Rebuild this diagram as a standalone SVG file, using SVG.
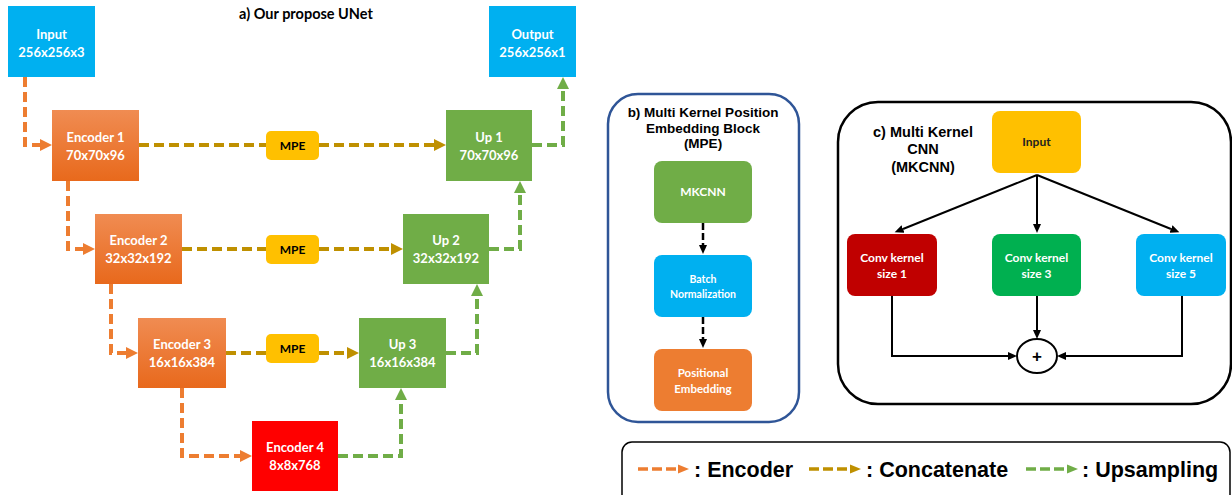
<svg xmlns="http://www.w3.org/2000/svg" width="1232" height="495" viewBox="0 0 1232 495">
<style>
.t{font-family:Lato,"Open Sans","Liberation Sans",sans-serif;font-weight:bold;text-anchor:middle}
.w{fill:#fff}
.a{font-family:"Liberation Sans",Arial,sans-serif;font-weight:bold;fill:#000}
.enc{fill:none;stroke:#ED7D31;stroke-width:4;stroke-dasharray:10 5}
.cat{fill:none;stroke:#BF9000;stroke-width:4;stroke-dasharray:10 5}
.ups{fill:none;stroke:#70AD47;stroke-width:4;stroke-dasharray:10 5}
.blk{fill:none;stroke:#000;stroke-width:2}
.bd{fill:none;stroke:#000;stroke-width:2.5;stroke-dasharray:7 3}
</style>
<defs>
<linearGradient id="og" x1="0" y1="0" x2="0" y2="1">
<stop offset="0" stop-color="#F08C52"/>
<stop offset="1" stop-color="#E8691C"/>
</linearGradient>
<marker id="mo" markerUnits="userSpaceOnUse" markerWidth="13" markerHeight="14" refX="0" refY="7" orient="auto"><path d="M0,1 L12,7 L0,13 z" fill="#ED7D31"/></marker>
<marker id="mc" markerUnits="userSpaceOnUse" markerWidth="13" markerHeight="14" refX="0" refY="7" orient="auto"><path d="M0,1 L12,7 L0,13 z" fill="#BF9000"/></marker>
<marker id="mg" markerUnits="userSpaceOnUse" markerWidth="13" markerHeight="14" refX="0" refY="7" orient="auto"><path d="M0,1 L12,7 L0,13 z" fill="#70AD47"/></marker>
<marker id="mb" markerUnits="userSpaceOnUse" markerWidth="10" markerHeight="10" refX="0" refY="5" orient="auto"><path d="M0,1 L9,5 L0,9 z" fill="#000"/></marker>
<marker id="mlo" markerUnits="userSpaceOnUse" markerWidth="12" markerHeight="12" refX="0" refY="6" orient="auto"><path d="M0,1.5 L11,6 L0,10.5 z" fill="#ED7D31"/></marker>
<marker id="mlc" markerUnits="userSpaceOnUse" markerWidth="12" markerHeight="12" refX="0" refY="6" orient="auto"><path d="M0,1.5 L11,6 L0,10.5 z" fill="#BF9000"/></marker>
<marker id="mlg" markerUnits="userSpaceOnUse" markerWidth="12" markerHeight="12" refX="0" refY="6" orient="auto"><path d="M0,1.5 L11,6 L0,10.5 z" fill="#70AD47"/></marker>
</defs>
<rect width="1232" height="495" fill="#fff"/>

<text class="t" x="306" y="19" font-size="14.5" fill="#000">a) Our propose UNet</text>

<g id="connectors">
<path class="enc" d="M25,77 V145 H40" marker-end="url(#mo)"/>
<path class="enc" d="M68,181 V249 H83" marker-end="url(#mo)"/>
<path class="enc" d="M111,284 V353 H126" marker-end="url(#mo)"/>
<path class="enc" d="M182,388 V456 H240" marker-end="url(#mo)"/>
<path class="cat" d="M139,145 H266"/>
<path class="cat" d="M319,145 H434" marker-end="url(#mc)"/>
<path class="cat" d="M182,249 H266"/>
<path class="cat" d="M319,249 H391" marker-end="url(#mc)"/>
<path class="cat" d="M226,353 H266"/>
<path class="cat" d="M319,353 H347" marker-end="url(#mc)"/>
<path class="ups" d="M338,456 H401 V400" marker-end="url(#mg)"/>
<path class="ups" d="M446,353 H477 V296" marker-end="url(#mg)"/>
<path class="ups" d="M489,249 H520 V193" marker-end="url(#mg)"/>
<path class="ups" d="M532,145 H563 V89" marker-end="url(#mg)"/>
<path class="bd" d="M703,223 V245" marker-end="url(#mb)"/>
<path class="bd" d="M703,317 V339" marker-end="url(#mb)"/>
<path class="blk" d="M1037,175 L903,229" marker-end="url(#mb)"/>
<path class="blk" d="M1037,175 V224" marker-end="url(#mb)"/>
<path class="blk" d="M1037,175 L1171,229" marker-end="url(#mb)"/>
<path class="blk" d="M892,296 V356 H1008" marker-end="url(#mb)"/>
<path class="blk" d="M1037,296 V330" marker-end="url(#mb)"/>
<path class="blk" d="M1182,296 V356 H1066" marker-end="url(#mb)"/>
</g>

<g id="input">
<rect x="8" y="6" width="87" height="71" fill="#00B0F0"/>
<text class="t w" x="51.5" y="38.5" font-size="13">Input</text>
<text class="t w" x="51.5" y="56.5" font-size="13">256x256x3</text>
</g>
<g id="output">
<rect x="489" y="6" width="87" height="71" fill="#00B0F0"/>
<text class="t w" x="532.5" y="38.5" font-size="13">Output</text>
<text class="t w" x="532.5" y="56.5" font-size="13">256x256x1</text>
</g>
<g id="encoder1">
<rect x="52" y="110" width="87" height="71" fill="url(#og)"/>
<text class="t w" x="95.5" y="141.5" font-size="13">Encoder 1</text>
<text class="t w" x="95.5" y="159.5" font-size="13">70x70x96</text>
</g>
<g id="encoder2">
<rect x="95" y="214" width="87" height="70" fill="url(#og)"/>
<text class="t w" x="138.5" y="245" font-size="13">Encoder 2</text>
<text class="t w" x="138.5" y="263" font-size="13">32x32x192</text>
</g>
<g id="encoder3">
<rect x="138" y="318" width="88" height="70" fill="url(#og)"/>
<text class="t w" x="182" y="349" font-size="13">Encoder 3</text>
<text class="t w" x="182" y="367" font-size="13">16x16x384</text>
</g>
<g id="encoder4">
<rect x="252" y="421" width="86" height="70" fill="#FF0000"/>
<text class="t w" x="295" y="452" font-size="13">Encoder 4</text>
<text class="t w" x="295" y="470" font-size="13">8x8x768</text>
</g>
<g id="up1">
<rect x="446" y="110" width="86" height="71" fill="#70AD47"/>
<text class="t w" x="489" y="141.5" font-size="13">Up 1</text>
<text class="t w" x="489" y="159.5" font-size="13">70x70x96</text>
</g>
<g id="up2">
<rect x="403" y="214" width="86" height="70" fill="#70AD47"/>
<text class="t w" x="446" y="245" font-size="13">Up 2</text>
<text class="t w" x="446" y="263" font-size="13">32x32x192</text>
</g>
<g id="up3">
<rect x="359" y="318" width="87" height="70" fill="#70AD47"/>
<text class="t w" x="402.5" y="349" font-size="13">Up 3</text>
<text class="t w" x="402.5" y="367" font-size="13">16x16x384</text>
</g>
<g id="mpe1">
<rect x="266" y="131" width="53" height="29" rx="5" fill="#FFC000"/>
<text class="t" x="292.5" y="150" font-size="12" fill="#000">MPE</text>
</g>
<g id="mpe2">
<rect x="266" y="235" width="53" height="29" rx="5" fill="#FFC000"/>
<text class="t" x="292.5" y="254" font-size="12" fill="#000">MPE</text>
</g>
<g id="mpe3">
<rect x="266" y="334" width="53" height="29" rx="5" fill="#FFC000"/>
<text class="t" x="292.5" y="353" font-size="12" fill="#000">MPE</text>
</g>

<g id="mpe-panel">
<rect x="608" y="94" width="191" height="328" rx="30" fill="none" stroke="#2F5597" stroke-width="2.5"/>
<text class="a" x="703" y="117" font-size="13.5" text-anchor="middle">b) Multi Kernel Position</text>
<text class="a" x="703" y="133" font-size="13.5" text-anchor="middle">Embedding Block</text>
<text class="a" x="703" y="148" font-size="13.5" text-anchor="middle">(MPE)</text>
</g>
<g id="mkcnn">
<rect x="654" y="161" width="98" height="62" rx="8" fill="#70AD47"/>
<text class="t w" x="703" y="196" font-size="12">MKCNN</text>
</g>
<g id="batchnorm">
<rect x="654" y="255" width="98" height="62" rx="8" fill="#00B0F0"/>
<text class="t w" x="703" y="283" font-size="10.5">Batch</text>
<text class="t w" x="703" y="298" font-size="10.5">Normalization</text>
</g>
<g id="posemb">
<rect x="654" y="349" width="98" height="62" rx="8" fill="#ED7D31"/>
<text class="t w" x="703" y="377" font-size="11.5">Positional</text>
<text class="t w" x="703" y="393" font-size="11.5">Embedding</text>
</g>

<g id="mkcnn-panel">
<rect x="838" y="102" width="393" height="302" rx="40" fill="none" stroke="#000" stroke-width="2.5"/>
<text class="a" x="923" y="137" font-size="14.5" text-anchor="middle">c) Multi Kernel</text>
<text class="a" x="923" y="154" font-size="14.5" text-anchor="middle">CNN</text>
<text class="a" x="923" y="172" font-size="14.5" text-anchor="middle">(MKCNN)</text>
</g>
<g id="mk-input">
<rect x="992" y="111" width="89" height="62" rx="8" fill="#FFC000"/>
<text class="t" x="1036.5" y="146" font-size="12" fill="#222">Input</text>
</g>
<g id="conv1">
<rect x="847" y="234" width="90" height="62" rx="8" fill="#C00000"/>
<text class="t w" x="892" y="262" font-size="12">Conv kernel</text>
<text class="t w" x="892" y="278" font-size="12">size 1</text>
</g>
<g id="conv3">
<rect x="992" y="234" width="89" height="62" rx="8" fill="#00B050"/>
<text class="t w" x="1036.5" y="262" font-size="12">Conv kernel</text>
<text class="t w" x="1036.5" y="278" font-size="12">size 3</text>
</g>
<g id="conv5">
<rect x="1136" y="234" width="90" height="62" rx="8" fill="#00B0F0"/>
<text class="t w" x="1181" y="262" font-size="12">Conv kernel</text>
<text class="t w" x="1181" y="278" font-size="12">size 5</text>
</g>
<g id="sum">
<ellipse cx="1037" cy="356" rx="20" ry="17" fill="#fff" stroke="#000" stroke-width="2"/>
<text class="a" x="1037" y="362" font-size="17" text-anchor="middle">+</text>
</g>

<g id="legend">
<rect x="622" y="442" width="608" height="70" rx="10" fill="none" stroke="#000" stroke-width="1.5"/>
<path d="M638,469 H678" stroke="#ED7D31" stroke-width="3.5" stroke-dasharray="10 4" fill="none" marker-end="url(#mlo)"/>
<text class="a" x="694" y="477" font-size="21.5">: Encoder</text>
<path d="M809,469 H850" stroke="#BF9000" stroke-width="3.5" stroke-dasharray="10 4" fill="none" marker-end="url(#mlc)"/>
<text class="a" x="866" y="477" font-size="21.5">: Concatenate</text>
<path d="M1026,469 H1067" stroke="#70AD47" stroke-width="3.5" stroke-dasharray="10 4" fill="none" marker-end="url(#mlg)"/>
<text class="a" x="1082" y="477" font-size="21.5">: Upsampling</text>
</g>
</svg>
